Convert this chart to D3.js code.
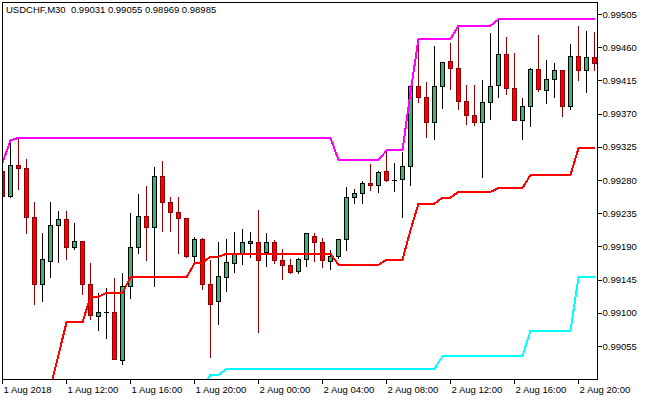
<!DOCTYPE html>
<html>
<head>
<meta charset="utf-8">
<script src="https://cdn.jsdelivr.net/npm/d3@7"></script>
<style>
  html, body { margin: 0; padding: 0; background: #fff; }
  svg { display: block; }
  text { font-family: "Liberation Sans", Arial, sans-serif; font-size: 9.5px; fill: #000; }
</style>
</head>
<body>
<div id="chart"></div>
<script>
const symbolTitle = 'USDCHF,M30';
const headerQuote = [0.99031, 0.99055, 0.98969, 0.98985];

const barTimes = [
  '2018-08-01 08:00', '2018-08-01 08:30', '2018-08-01 09:00', '2018-08-01 09:30', '2018-08-01 10:00',
  '2018-08-01 10:30', '2018-08-01 11:00', '2018-08-01 11:30', '2018-08-01 12:00', '2018-08-01 12:30',
  '2018-08-01 13:00', '2018-08-01 13:30', '2018-08-01 14:00', '2018-08-01 14:30', '2018-08-01 15:00',
  '2018-08-01 15:30', '2018-08-01 16:00', '2018-08-01 16:30', '2018-08-01 17:00', '2018-08-01 17:30',
  '2018-08-01 18:00', '2018-08-01 18:30', '2018-08-01 19:00', '2018-08-01 19:30', '2018-08-01 20:00',
  '2018-08-01 20:30', '2018-08-01 21:00', '2018-08-01 21:30', '2018-08-01 22:00', '2018-08-01 22:30',
  '2018-08-01 23:00', '2018-08-01 23:30', '2018-08-02 00:00', '2018-08-02 00:30', '2018-08-02 01:00',
  '2018-08-02 01:30', '2018-08-02 02:00', '2018-08-02 02:30', '2018-08-02 03:00', '2018-08-02 03:30',
  '2018-08-02 04:00', '2018-08-02 04:30', '2018-08-02 05:00', '2018-08-02 05:30', '2018-08-02 06:00',
  '2018-08-02 06:30', '2018-08-02 07:00', '2018-08-02 07:30', '2018-08-02 08:00', '2018-08-02 08:30',
  '2018-08-02 09:00', '2018-08-02 09:30', '2018-08-02 10:00', '2018-08-02 10:30', '2018-08-02 11:00',
  '2018-08-02 11:30', '2018-08-02 12:00', '2018-08-02 12:30', '2018-08-02 13:00', '2018-08-02 13:30',
  '2018-08-02 14:00', '2018-08-02 14:30', '2018-08-02 15:00', '2018-08-02 15:30', '2018-08-02 16:00',
  '2018-08-02 16:30', '2018-08-02 17:00', '2018-08-02 17:30', '2018-08-02 18:00', '2018-08-02 18:30',
  '2018-08-02 19:00', '2018-08-02 19:30', '2018-08-02 20:00', '2018-08-02 20:30', '2018-08-02 21:00'
];

const opens = [
  0.99291, 0.99258, 0.99299, 0.99296, 0.99229, 0.99139, 0.99170, 0.99219, 0.99226, 0.99188,
  0.99196, 0.99139, 0.99095, 0.99101, 0.99101, 0.99036, 0.99135, 0.99189, 0.99231, 0.99216,
  0.99285, 0.99250, 0.99236, 0.99228, 0.99176, 0.99199, 0.99138, 0.99115, 0.99148, 0.99167,
  0.99180, 0.99194, 0.99195, 0.99182, 0.99195, 0.99171, 0.99164, 0.99156, 0.99172, 0.99204,
  0.99195, 0.99170, 0.99176, 0.99199, 0.99256, 0.99262, 0.99275, 0.99273, 0.99292, 0.99279,
  0.99281, 0.99298, 0.99407, 0.99392, 0.99358, 0.99407, 0.99440, 0.99431, 0.99386, 0.99367,
  0.99358, 0.99385, 0.99408, 0.99450, 0.99404, 0.99361, 0.99380, 0.99430, 0.99401, 0.99416,
  0.99428, 0.99380, 0.99447, 0.99428, 0.99446
];
const highs = [
  0.99294, 0.99333, 0.99337, 0.99309, 0.99250, 0.99208, 0.99250, 0.99238, 0.99238, 0.99222,
  0.99196, 0.99168, 0.99127, 0.99134, 0.99147, 0.99154, 0.99235, 0.99261, 0.99272, 0.99298,
  0.99306, 0.99257, 0.99257, 0.99229, 0.99203, 0.99201, 0.99172, 0.99196, 0.99200, 0.99210,
  0.99214, 0.99210, 0.99239, 0.99208, 0.99199, 0.99187, 0.99173, 0.99174, 0.99208, 0.99208,
  0.99201, 0.99185, 0.99200, 0.99271, 0.99268, 0.99279, 0.99302, 0.99292, 0.99318, 0.99303,
  0.99318, 0.99408, 0.99464, 0.99413, 0.99462, 0.99440, 0.99466, 0.99489, 0.99409, 0.99409,
  0.99416, 0.99479, 0.99498, 0.99474, 0.99452, 0.99391, 0.99432, 0.99477, 0.99443, 0.99439,
  0.99429, 0.99464, 0.99489, 0.99482, 0.99481
];
const lows = [
  0.99257, 0.99257, 0.99268, 0.99208, 0.99112, 0.99116, 0.99149, 0.99169, 0.99173, 0.99187,
  0.99126, 0.99092, 0.99077, 0.99066, 0.99037, 0.99031, 0.99120, 0.99181, 0.99172, 0.99136,
  0.99211, 0.99211, 0.99181, 0.99175, 0.99169, 0.99132, 0.99040, 0.99085, 0.99130, 0.99155,
  0.99166, 0.99176, 0.99074, 0.99163, 0.99168, 0.99146, 0.99154, 0.99154, 0.99163, 0.99170,
  0.99162, 0.99159, 0.99174, 0.99185, 0.99249, 0.99249, 0.99267, 0.99264, 0.99278, 0.99265,
  0.99230, 0.99273, 0.99386, 0.99338, 0.99336, 0.99378, 0.99403, 0.99376, 0.99356, 0.99355,
  0.99284, 0.99363, 0.99392, 0.99397, 0.99361, 0.99336, 0.99353, 0.99401, 0.99384, 0.99392,
  0.99367, 0.99376, 0.99416, 0.99399, 0.99429
];
const closes = [
  0.99258, 0.99299, 0.99296, 0.99229, 0.99139, 0.99172, 0.99219, 0.99226, 0.99189, 0.99196,
  0.99139, 0.99096, 0.99100, 0.99101, 0.99037, 0.99135, 0.99189, 0.99231, 0.99216, 0.99285,
  0.99249, 0.99236, 0.99228, 0.99176, 0.99199, 0.99138, 0.99111, 0.99149, 0.99168, 0.99179,
  0.99195, 0.99197, 0.99171, 0.99195, 0.99171, 0.99164, 0.99155, 0.99172, 0.99208, 0.99195,
  0.99171, 0.99176, 0.99199, 0.99256, 0.99262, 0.99275, 0.99273, 0.99290, 0.99279, 0.99279,
  0.99298, 0.99407, 0.99392, 0.99358, 0.99407, 0.99439, 0.99431, 0.99386, 0.99367, 0.99358,
  0.99385, 0.99407, 0.99450, 0.99404, 0.99361, 0.99380, 0.99430, 0.99403, 0.99416, 0.99428,
  0.99380, 0.99447, 0.99428, 0.99446, 0.99438
];

// channel lines (null = not drawn)
const upperBand = [
  0.99303, 0.99334, 0.99337, 0.99337, 0.99337, 0.99337, 0.99337, 0.99337, 0.99337, 0.99337,
  0.99337, 0.99337, 0.99337, 0.99337, 0.99337, 0.99337, 0.99337, 0.99337, 0.99337, 0.99337,
  0.99337, 0.99337, 0.99337, 0.99337, 0.99337, 0.99337, 0.99337, 0.99337, 0.99337, 0.99337,
  0.99337, 0.99337, 0.99337, 0.99337, 0.99337, 0.99337, 0.99337, 0.99337, 0.99337, 0.99337,
  0.99337, 0.99337, 0.99307, 0.99307, 0.99307, 0.99307, 0.99307, 0.99307, 0.99320, 0.99320,
  0.99320, 0.99399, 0.99471, 0.99471, 0.99471, 0.99471, 0.99471, 0.99489, 0.99489, 0.99489,
  0.99489, 0.99489, 0.99498, 0.99498, 0.99498, 0.99498, 0.99498, 0.99498, 0.99498, 0.99498,
  0.99498, 0.99498, 0.99498, 0.99498, 0.99498
];
const middleBand = [
  null, null, null, null, null, null, 0.98999, 0.99043, 0.99087, 0.99087,
  0.99087, 0.99122, 0.99122, 0.99127, 0.99127, 0.99127, 0.99148, 0.99148, 0.99148, 0.99148,
  0.99148, 0.99148, 0.99148, 0.99148, 0.99167, 0.99168, 0.99176, 0.99176, 0.99180, 0.99180,
  0.99180, 0.99180, 0.99180, 0.99180, 0.99180, 0.99180, 0.99180, 0.99180, 0.99180, 0.99180,
  0.99180, 0.99180, 0.99165, 0.99165, 0.99165, 0.99165, 0.99165, 0.99165, 0.99172, 0.99172,
  0.99172, 0.99212, 0.99248, 0.99248, 0.99248, 0.99256, 0.99256, 0.99264, 0.99264, 0.99264,
  0.99264, 0.99264, 0.99269, 0.99269, 0.99269, 0.99269, 0.99287, 0.99287, 0.99287, 0.99287,
  0.99287, 0.99287, 0.99323, 0.99323, 0.99323
];
const lowerBand = [
  null, null, null, null, null, null, null, null, null, null,
  null, null, null, null, null, null, null, null, null, null,
  null, null, null, null, 0.98997, 0.98999, 0.99016, 0.99016, 0.99024, 0.99024,
  0.99024, 0.99024, 0.99024, 0.99024, 0.99024, 0.99024, 0.99024, 0.99024, 0.99024, 0.99024,
  0.99024, 0.99024, 0.99024, 0.99024, 0.99024, 0.99024, 0.99024, 0.99024, 0.99024, 0.99024,
  0.99024, 0.99024, 0.99024, 0.99024, 0.99024, 0.99041, 0.99041, 0.99041, 0.99041, 0.99041,
  0.99041, 0.99041, 0.99041, 0.99041, 0.99041, 0.99041, 0.99076, 0.99076, 0.99076, 0.99076,
  0.99076, 0.99076, 0.99148, 0.99148, 0.99148
];

const priceTicks = [0.99055, 0.99100, 0.99145, 0.99190, 0.99235, 0.99280, 0.99325, 0.99370, 0.99415, 0.99460, 0.99505];
const timeTicks = [
  '2018-08-01 08:00', '2018-08-01 12:00', '2018-08-01 16:00', '2018-08-01 20:00', '2018-08-02 00:00',
  '2018-08-02 04:00', '2018-08-02 08:00', '2018-08-02 12:00', '2018-08-02 16:00', '2018-08-02 20:00'
];
const timeTickLabels = [
  '1 Aug 2018', '1 Aug 12:00', '1 Aug 16:00', '1 Aug 20:00', '2 Aug 00:00',
  '2 Aug 04:00', '2 Aug 08:00', '2 Aug 12:00', '2 Aug 16:00', '2 Aug 20:00'
];

(function () {
  const w = 650, h = 400;
  const frame = { left: 2, top: 2, right: 597, bottom: 379 };
  const bullFill = '#3cb371', bullLine = '#000000';
  const bearFill = '#ff0000', bearLine = '#8b0000';
  const px = v => Math.floor(v) + 0.5;

  const svg = d3.select('#chart')
    .append('svg')
    .attr('width', w)
    .attr('height', h)
    .attr('viewBox', `0 0 ${w} ${h}`);

  svg.append('defs').append('clipPath')
    .attr('id', 'plot-clip')
    .append('rect')
    .attr('x', frame.left + 1)
    .attr('y', frame.top + 1)
    .attr('width', frame.right - frame.left - 1)
    .attr('height', frame.bottom - frame.top - 1);

  const x = d3.scalePoint()
    .domain(barTimes)
    .range([2, 594]);

  const y = d3.scaleLinear()
    .domain([0.99055, 0.99505])
    .range([346, 14]);

  const plot = svg.append('g')
    .attr('clip-path', 'url(#plot-clip)')
    .attr('shape-rendering', 'crispEdges');

  const bars = barTimes.map((t, i) => ({
    t, o: opens[i], h: highs[i], l: lows[i], c: closes[i]
  }));

  const candle = plot.selectAll('g.candle')
    .data(bars)
    .join('g')
    .attr('class', 'candle');

  candle.append('line')
    .attr('x1', d => px(x(d.t)))
    .attr('x2', d => px(x(d.t)))
    .attr('y1', d => Math.round(y(d.h)))
    .attr('y2', d => Math.round(y(d.l)) + 1)
    .attr('stroke', d => d.c >= d.o ? bullLine : bearLine)
    .attr('stroke-width', 1);

  // bodies; equal open/close gets a flat dash
  candle.filter(d => Math.round(y(d.o)) !== Math.round(y(d.c)))
    .append('rect')
    .attr('x', d => px(x(d.t)) - 2)
    .attr('y', d => px(y(Math.max(d.o, d.c))))
    .attr('width', 4)
    .attr('height', d => Math.max(1, px(y(Math.min(d.o, d.c))) - px(y(Math.max(d.o, d.c)))))
    .attr('fill', d => d.c >= d.o ? bullFill : bearFill)
    .attr('stroke', d => d.c >= d.o ? bullLine : bearLine)
    .attr('stroke-width', 1);

  candle.filter(d => Math.round(y(d.o)) === Math.round(y(d.c)))
    .append('line')
    .attr('x1', d => px(x(d.t)) - 2.5)
    .attr('x2', d => px(x(d.t)) + 2.5)
    .attr('y1', d => px(y(d.o)))
    .attr('y2', d => px(y(d.o)))
    .attr('stroke', bullLine)
    .attr('stroke-width', 1);

  const bandLine = d3.line()
    .defined(d => d != null)
    .x((d, i) => px(x(barTimes[i])))
    .y(d => y(d));

  [
    { values: lowerBand, color: '#00ffff' },
    { values: middleBand, color: '#ff0000' },
    { values: upperBand, color: '#ff00ff' }
  ].forEach(s => {
    plot.append('path')
      .datum(s.values)
      .attr('fill', 'none')
      .attr('stroke', s.color)
      .attr('stroke-width', 2)
      .attr('stroke-linejoin', 'miter')
      .attr('d', bandLine);
  });

  // frame
  svg.append('rect')
    .attr('x', frame.left + 0.5)
    .attr('y', frame.top + 0.5)
    .attr('width', frame.right - frame.left)
    .attr('height', frame.bottom - frame.top)
    .attr('fill', 'none')
    .attr('stroke', '#000')
    .attr('stroke-width', 1)
    .attr('shape-rendering', 'crispEdges');

  const yAxis = svg.append('g')
    .attr('transform', `translate(${frame.right + 0.5},0)`)
    .call(d3.axisRight(y)
      .tickValues(priceTicks)
      .tickSize(4)
      .tickPadding(1)
      .tickFormat(d => d.toFixed(5)));
  yAxis.select('.domain').remove();
  yAxis.selectAll('line').attr('shape-rendering', 'crispEdges');
  yAxis.selectAll('text')
    .attr('font-family', null)
    .attr('font-size', null);

  const xAxis = svg.append('g')
    .attr('transform', `translate(0,${frame.bottom + 0.5})`)
    .call(d3.axisBottom(x)
      .tickValues(timeTicks)
      .tickSize(4)
      .tickPadding(3)
      .offset(0.5)
      .tickFormat((d, i) => timeTickLabels[i]));
  xAxis.select('.domain').remove();
  xAxis.selectAll('line').attr('shape-rendering', 'crispEdges');
  xAxis.selectAll('text')
    .attr('font-family', null)
    .attr('font-size', null)
    .attr('text-anchor', 'start')
    .attr('x', 1);

  svg.append('text')
    .attr('x', 6)
    .attr('y', 13)
    .style('white-space', 'pre')
    .text(symbolTitle + '  ' + headerQuote.map(v => v.toFixed(5)).join(' '));
})();
</script>
</body>
</html>
